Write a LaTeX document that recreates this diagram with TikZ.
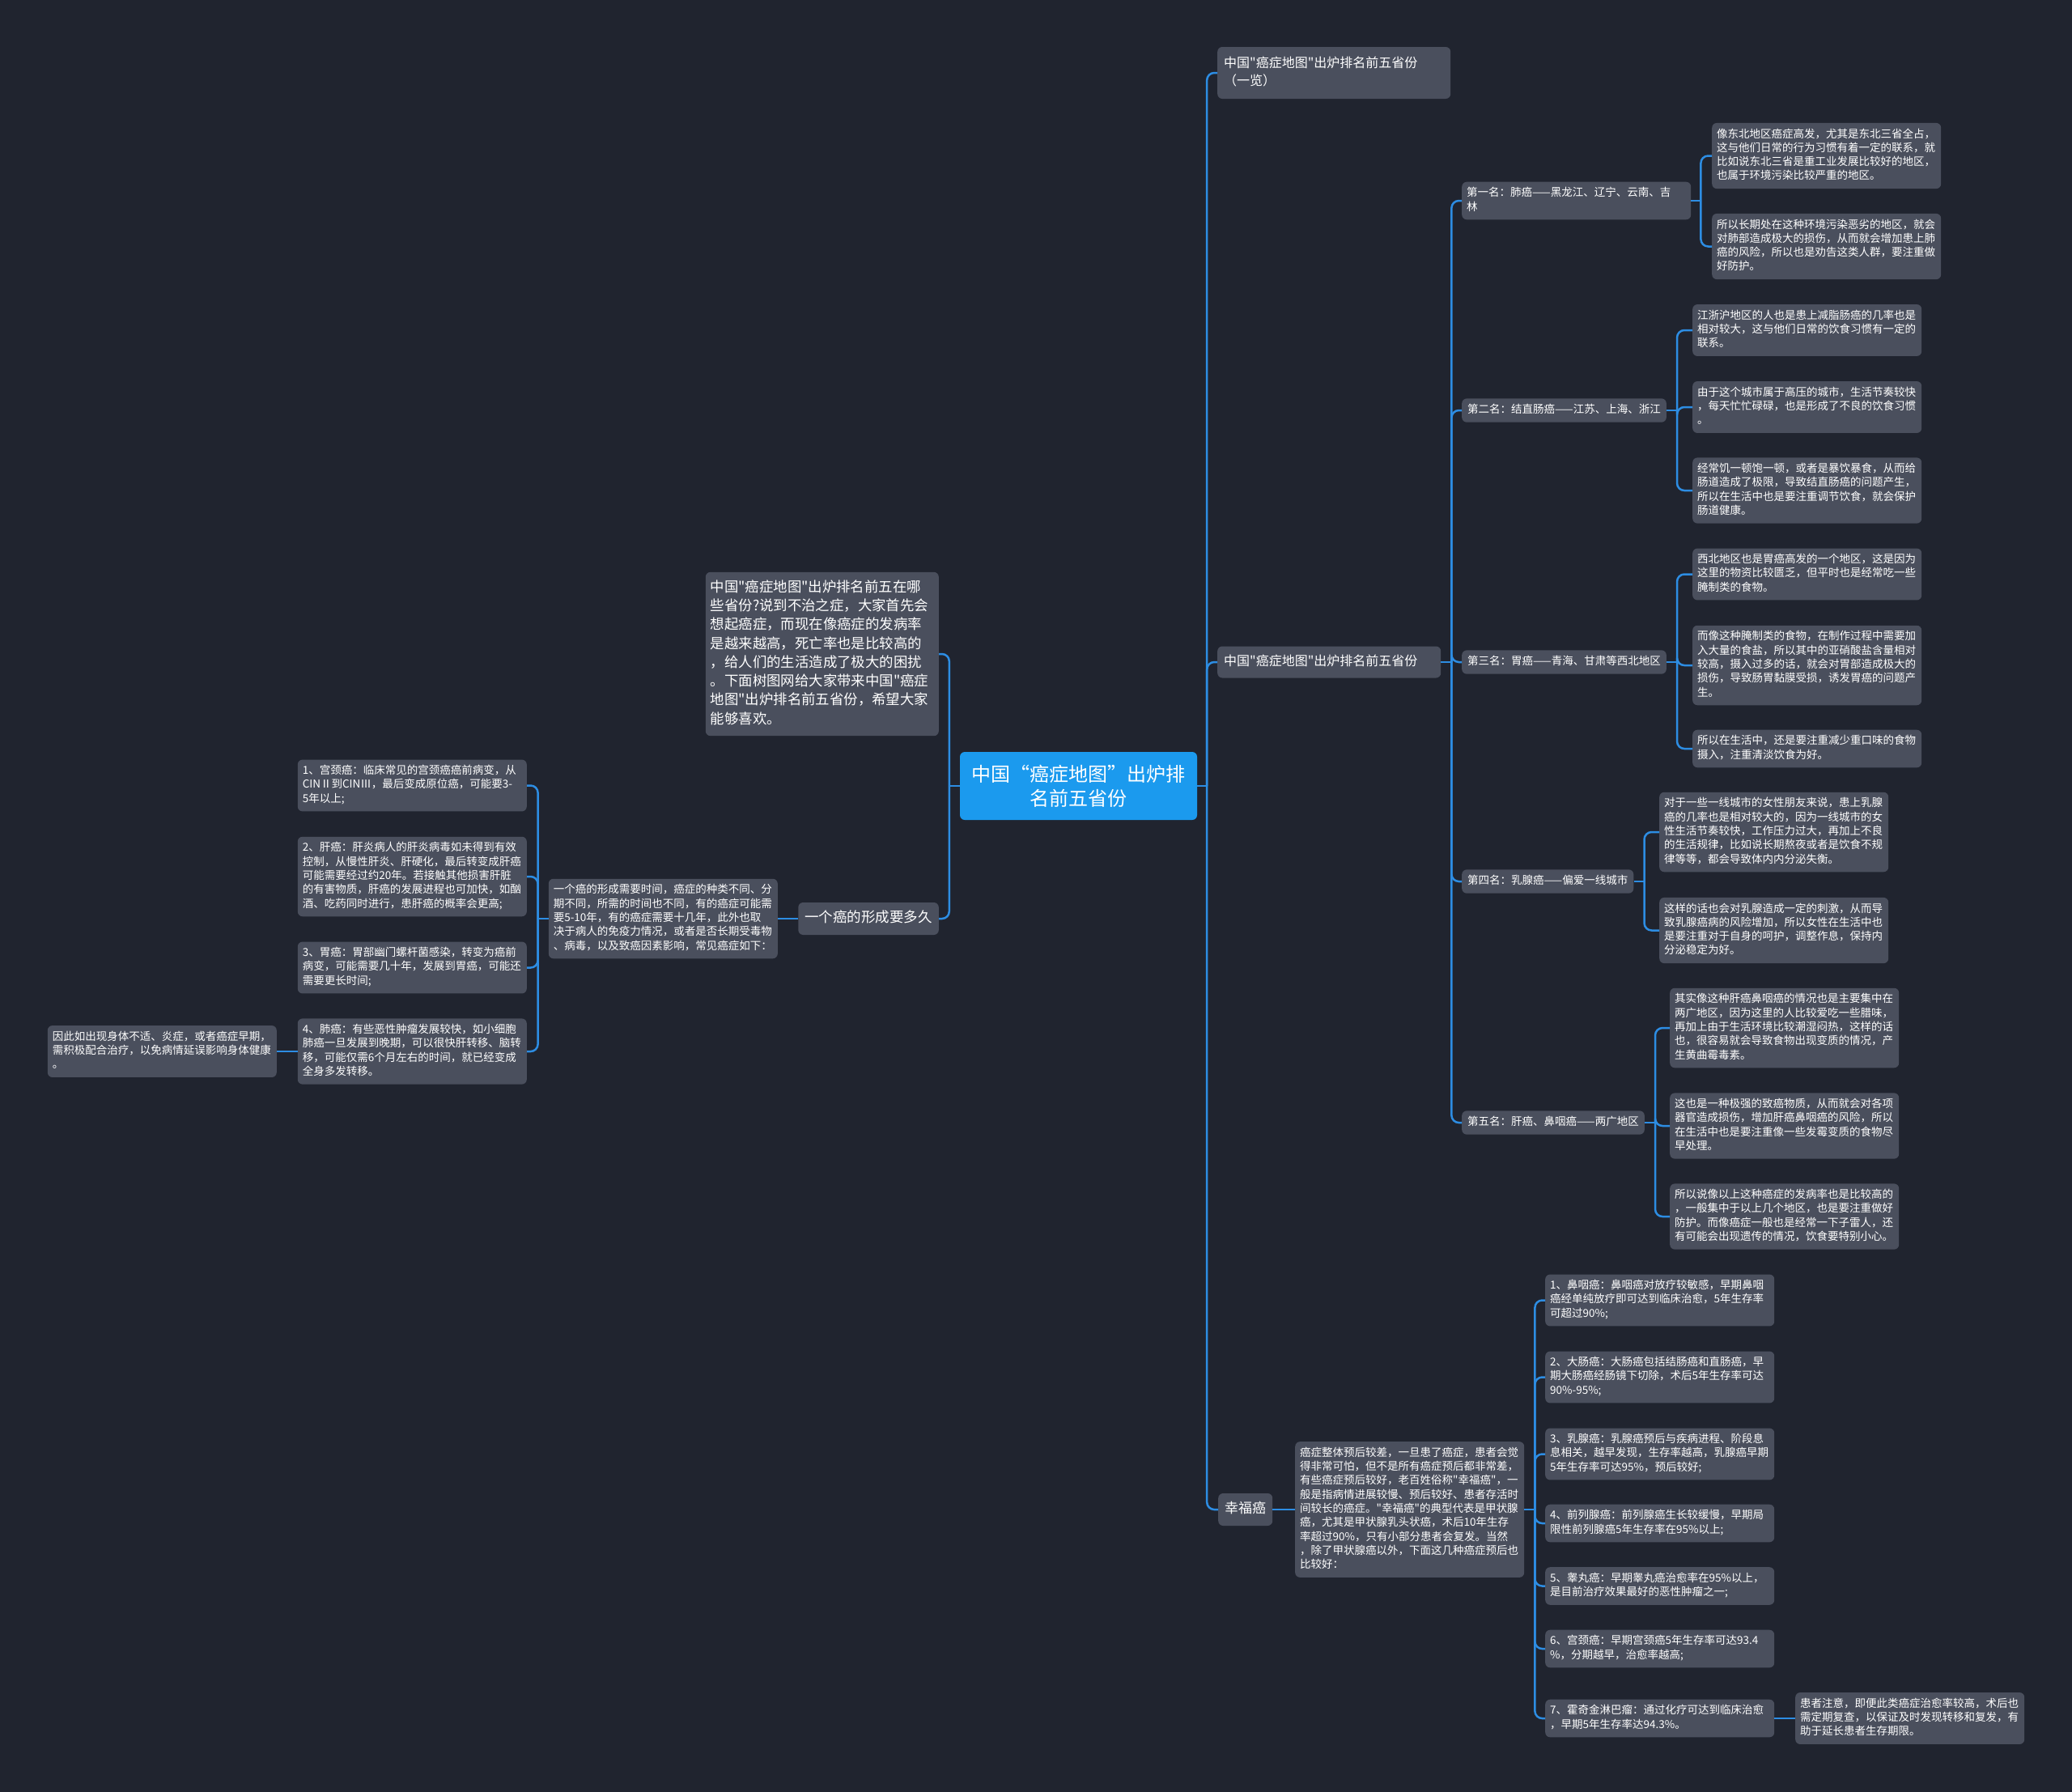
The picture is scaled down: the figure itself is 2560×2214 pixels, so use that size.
\documentclass[tikz,border=0pt]{standalone}
\usepackage{fontspec}
\setmainfont{Noto Sans CJK SC}[Ligatures=TeXOff]
\definecolor{bgc}{HTML}{20242F}
\definecolor{boxc}{HTML}{4A4F5D}
\definecolor{linec}{HTML}{2D8DE3}
\definecolor{rootc}{HTML}{1B9AEE}
\tikzset{
  box/.style={fill=boxc, rounded corners=6pt, text=white, inner ysep=6pt, inner xsep=7pt,
    execute at begin node=\strut, execute at end node=\strut,
    font=\fontsize{13.5}{17.3}\selectfont, align=left},
  wbox/.style={box, inner xsep=6pt, text width=271pt},
  lone/.style={box, font=\fontsize{17}{22}\selectfont, inner ysep=9pt, inner xsep=8pt},
  conn/.style={draw=linec, line width=2.5pt, rounded corners=9pt},
}
\begin{document}
\begin{tikzpicture}[x=1pt,y=-1pt]
\fill[bgc] (0,0) rectangle (2560,2214);
\useasboundingbox (0,0) rectangle (2560,2214);

% root
\node[fill=rootc, rounded corners=6pt, text=white, minimum width=293pt, minimum height=84pt,
  align=center, font=\fontsize{24}{30}\selectfont, inner sep=0pt] (root) at (1332.5,971)
  {中国“癌症地图”出炉排\\名前五省份};

% right level 1
\node[lone, anchor=west, text width=272pt, inner ysep=10pt, font=\fontsize{16}{22}\selectfont] (top1) at (1504,90)
  {中国"癌症地图"出炉排名前五省份\\（一览）};
\node[lone, anchor=west, text width=260pt, inner ysep=8.5pt, font=\fontsize{16}{22}\selectfont] (mid) at (1504,818)
  {中国"癌症地图"出炉排名前五省份};
\node[lone, anchor=west] (xfa) at (1505,1865) {幸福癌};

% level 2 under mid
\node[wbox, anchor=west] (r1) at (1806,248) {第一名：肺癌——黑龙江、辽宁、云南、吉\\林};
\node[box, anchor=west] (r2) at (1806,507) {第二名：结直肠癌——江苏、上海、浙江};
\node[box, anchor=west] (r3) at (1806,818) {第三名：胃癌——青海、甘肃等西北地区};
\node[box, anchor=west] (r4) at (1806,1089) {第四名：乳腺癌——偏爱一线城市};
\node[box, anchor=west] (r5) at (1806,1387) {第五名：肝癌、鼻咽癌——两广地区};

% level 3
\node[wbox, anchor=west] (r1a) at (2115,192.5) {像东北地区癌症高发，尤其是东北三省全占，\\这与他们日常的行为习惯有着一定的联系，就\\比如说东北三省是重工业发展比较好的地区，\\也属于环境污染比较严重的地区。};
\node[wbox, anchor=west] (r1b) at (2115,304.5) {所以长期处在这种环境污染恶劣的地区，就会\\对肺部造成极大的损伤，从而就会增加患上肺\\癌的风险，所以也是劝告这类人群，要注重做\\好防护。};

\node[wbox, anchor=west] (r2a) at (2091,408) {江浙沪地区的人也是患上减脂肠癌的几率也是\\相对较大，这与他们日常的饮食习惯有一定的\\联系。};
\node[wbox, anchor=west] (r2b) at (2091,503) {由于这个城市属于高压的城市，生活节奏较快\\，每天忙忙碌碌，也是形成了不良的饮食习惯\\。};
\node[wbox, anchor=west] (r2c) at (2091,606) {经常饥一顿饱一顿，或者是暴饮暴食，从而给\\肠道造成了极限，导致结直肠癌的问题产生，\\所以在生活中也是要注重调节饮食，就会保护\\肠道健康。};

\node[wbox, anchor=west] (r3a) at (2091,709.5) {西北地区也是胃癌高发的一个地区，这是因为\\这里的物资比较匮乏，但平时也是经常吃一些\\腌制类的食物。};
\node[wbox, anchor=west] (r3b) at (2091,822) {而像这种腌制类的食物，在制作过程中需要加\\入大量的食盐，所以其中的亚硝酸盐含量相对\\较高，摄入过多的话，就会对胃部造成极大的\\损伤，导致肠胃黏膜受损，诱发胃癌的问题产\\生。};
\node[wbox, anchor=west] (r3c) at (2091,925) {所以在生活中，还是要注重减少重口味的食物\\摄入，注重清淡饮食为好。};

\node[wbox, anchor=west] (r4a) at (2050,1028) {对于一些一线城市的女性朋友来说，患上乳腺\\癌的几率也是相对较大的，因为一线城市的女\\性生活节奏较快，工作压力过大，再加上不良\\的生活规律，比如说长期熬夜或者是饮食不规\\律等等，都会导致体内内分泌失衡。};
\node[wbox, anchor=west] (r4b) at (2050,1149.5) {这样的话也会对乳腺造成一定的刺激，从而导\\致乳腺癌病的风险增加，所以女性在生活中也\\是要注重对于自身的呵护，调整作息，保持内\\分泌稳定为好。};

\node[wbox, anchor=west] (r5a) at (2063,1270) {其实像这种肝癌鼻咽癌的情况也是主要集中在\\两广地区，因为这里的人比较爱吃一些腊味，\\再加上由于生活环境比较潮湿闷热，这样的话\\也，很容易就会导致食物出现变质的情况，产\\生黄曲霉毒素。};
\node[wbox, anchor=west] (r5b) at (2063,1391) {这也是一种极强的致癌物质，从而就会对各项\\器官造成损伤，增加肝癌鼻咽癌的风险，所以\\在生活中也是要注重像一些发霉变质的食物尽\\早处理。};
\node[wbox, anchor=west] (r5c) at (2063,1503) {所以说像以上这种癌症的发病率也是比较高的\\，一般集中于以上几个地区，也是要注重做好\\防护。而像癌症一般也是经常一下子雷人，还\\有可能会出现遗传的情况，饮食要特别小心。};

% 幸福癌 branch
\node[wbox, anchor=west] (xt) at (1600,1865) {癌症整体预后较差，一旦患了癌症，患者会觉\\得非常可怕，但不是所有癌症预后都非常差，\\有些癌症预后较好，老百姓俗称"幸福癌"，一\\般是指病情进展较慢、预后较好、患者存活时\\间较长的癌症。"幸福癌"的典型代表是甲状腺\\癌，尤其是甲状腺乳头状癌，术后10年生存\\率超过90\%，只有小部分患者会复发。当然\\，除了甲状腺癌以外，下面这几种癌症预后也\\比较好：};
\node[wbox, anchor=west] (x1) at (1909,1606.5) {1、鼻咽癌：鼻咽癌对放疗较敏感，早期鼻咽\\癌经单纯放疗即可达到临床治愈，5年生存率\\可超过90\%;};
\node[wbox, anchor=west] (x2) at (1909,1701.5) {2、大肠癌：大肠癌包括结肠癌和直肠癌，早\\期大肠癌经肠镜下切除，术后5年生存率可达\\90\%-95\%;};
\node[wbox, anchor=west] (x3) at (1909,1796.5) {3、乳腺癌：乳腺癌预后与疾病进程、阶段息\\息相关，越早发现，生存率越高，乳腺癌早期\\5年生存率可达95\%，预后较好;};
\node[wbox, anchor=west] (x4) at (1909,1882) {4、前列腺癌：前列腺癌生长较缓慢，早期局\\限性前列腺癌5年生存率在95\%以上;};
\node[wbox, anchor=west] (x5) at (1909,1959.5) {5、睾丸癌：早期睾丸癌治愈率在95\%以上，\\是目前治疗效果最好的恶性肿瘤之一;};
\node[wbox, anchor=west] (x6) at (1909,2037) {6、宫颈癌：早期宫颈癌5年生存率可达93.4\\\%，分期越早，治愈率越高;};
\node[wbox, anchor=west] (x7) at (1909,2123) {7、霍奇金淋巴瘤：通过化疗可达到临床治愈\\，早期5年生存率达94.3\%。};
\node[wbox, anchor=west] (x7n) at (2218,2123) {患者注意，即便此类癌症治愈率较高，术后也\\需定期复查，以保证及时发现转移和复发，有\\助于延长患者生存期限。};

% left side
\node[box, anchor=east, text width=276pt, inner xsep=6pt, inner ysep=8pt, font=\fontsize{17.4}{23.3}\selectfont] (intro) at (1160,808)
  {中国"癌症地图"出炉排名前五在哪\\些省份?说到不治之症，大家首先会\\想起癌症，而现在像癌症的发病率\\是越来越高，死亡率也是比较高的\\，给人们的生活造成了极大的困扰\\。下面树图网给大家带来中国"癌症\\地图"出炉排名前五省份，希望大家\\能够喜欢。};
\node[lone, anchor=east, font=\fontsize{17.5}{22}\selectfont] (form) at (1160,1135) {一个癌的形成要多久};
\node[wbox, anchor=east] (long) at (961,1135) {一个癌的形成需要时间，癌症的种类不同、分\\期不同，所需的时间也不同，有的癌症可能需\\要5-10年，有的癌症需要十几年，此外也取\\决于病人的免疫力情况，或者是否长期受毒物\\、病毒，以及致癌因素影响，常见癌症如下：};
\node[wbox, anchor=east] (l1) at (651,970.5) {1、宫颈癌：临床常见的宫颈癌癌前病变，从\\CINⅡ到CINⅢ，最后变成原位癌，可能要3-\\5年以上;};
\node[wbox, anchor=east] (l2) at (651,1083) {2、肝癌：肝炎病人的肝炎病毒如未得到有效\\控制，从慢性肝炎、肝硬化，最后转变成肝癌\\可能需要经过约20年。若接触其他损害肝脏\\的有害物质，肝癌的发展进程也可加快，如酗\\酒、吃药同时进行，患肝癌的概率会更高;};
\node[wbox, anchor=east] (l3) at (651,1195.5) {3、胃癌：胃部幽门螺杆菌感染，转变为癌前\\病变，可能需要几十年，发展到胃癌，可能还\\需要更长时间;};
\node[wbox, anchor=east] (l4) at (651,1299) {4、肺癌：有些恶性肿瘤发展较快，如小细胞\\肺癌一旦发展到晚期，可以很快肝转移、脑转\\移，可能仅需6个月左右的时间，就已经变成\\全身多发转移。};
\node[wbox, anchor=east] (leaf) at (342,1299) {因此如出现身体不适、炎症，或者癌症早期，\\需积极配合治疗，以免病情延误影响身体健康\\。};

% connectors
\draw[conn] (root.east) -- ([xshift=12pt]root.east);
\foreach \c in {top1,mid,xfa} \draw[conn] ([xshift=12pt]root.east) |- (\c.west);
\draw[conn] (root.west) -- ([xshift=-13pt]root.west);
\foreach \c in {intro,form} \draw[conn] ([xshift=-13pt]root.west) |- (\c.east);

\draw[conn] (mid.east) -- ([xshift=13pt]mid.east);
\foreach \c in {r1,r2,r3,r4,r5} \draw[conn] ([xshift=13pt]mid.east) |- (\c.west);

\draw[conn] (r1.east) -- ([xshift=12pt]r1.east);
\foreach \c in {r1a,r1b} \draw[conn] ([xshift=12pt]r1.east) |- (\c.west);
\draw[conn] (r2.east) -- ([xshift=13pt]r2.east);
\foreach \c in {r2a,r2b,r2c} \draw[conn] ([xshift=13pt]r2.east) |- (\c.west);
\draw[conn] (r3.east) -- ([xshift=13pt]r3.east);
\foreach \c in {r3a,r3b,r3c} \draw[conn] ([xshift=13pt]r3.east) |- (\c.west);
\draw[conn] (r4.east) -- ([xshift=13pt]r4.east);
\foreach \c in {r4a,r4b} \draw[conn] ([xshift=13pt]r4.east) |- (\c.west);
\draw[conn] (r5.east) -- ([xshift=13pt]r5.east);
\foreach \c in {r5a,r5b,r5c} \draw[conn] ([xshift=13pt]r5.east) |- (\c.west);

\draw[conn] (xfa.east) -- (xt.west);
\draw[conn] (xt.east) -- ([xshift=13pt]xt.east);
\foreach \c in {x1,x2,x3,x4,x5,x6,x7} \draw[conn] ([xshift=13pt]xt.east) |- (\c.west);
\draw[conn] (x7.east) -- (x7n.west);

\draw[conn] (form.west) -- (long.east);
\draw[conn] (long.west) -- ([xshift=-13pt]long.west);
\foreach \c in {l1,l2,l3,l4} \draw[conn] ([xshift=-13pt]long.west) |- (\c.east);
\draw[conn] (l4.west) -- (leaf.east);
\end{tikzpicture}
\end{document}
